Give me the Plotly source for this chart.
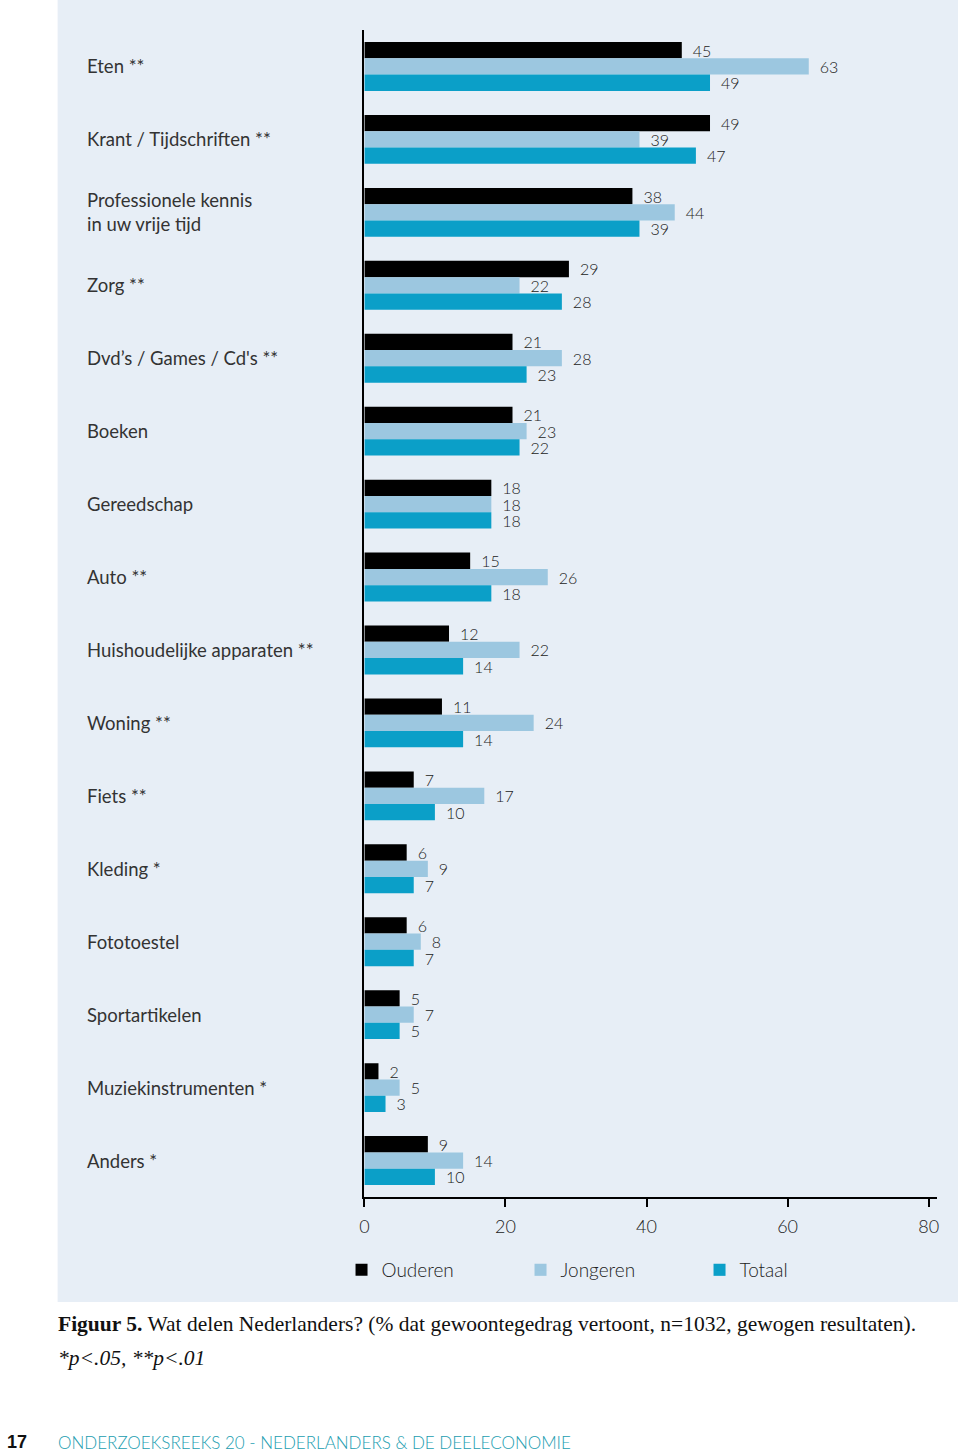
import plotly.graph_objects as go

categories = ["Eten **", "Krant / Tijdschriften **", "Professionele kennis<br>in uw vrije tijd",
              "Zorg **", "Dvd’s / Games / Cd's **", "Boeken", "Gereedschap", "Auto **",
              "Huishoudelijke apparaten **", "Woning **", "Fiets **", "Kleding *",
              "Fototoestel", "Sportartikelen", "Muziekinstrumenten *", "Anders *"]
ouderen = [45, 49, 38, 29, 21, 21, 18, 15, 12, 11, 7, 6, 6, 5, 2, 9]
jongeren = [63, 39, 44, 22, 28, 23, 18, 26, 22, 24, 17, 9, 8, 7, 5, 14]
totaal = [49, 47, 39, 28, 23, 22, 18, 18, 14, 14, 10, 7, 7, 5, 3, 10]
series_names = ["Ouderen", "Jongeren", "Totaal"]
x_ticks = [0, 20, 40, 60, 80]

colors = ["#000000", "#9CC7E0", "#0B9FC8"]
FONT = "Lato"
ids = list(range(len(categories)))

fig = go.Figure()
for name, vals, col in zip(series_names, [ouderen, jongeren, totaal], colors):
    fig.add_trace(go.Bar(
        y=ids, x=vals, name=name, orientation="h",
        marker=dict(color=col, line=dict(width=0)),
        text=[str(v) for v in vals], texttemplate="\u2002%{text}", textposition="outside",
        textfont=dict(family=FONT, size=16, color="#222222", weight=300),
        cliponaxis=False, constraintext="none",
    ))

# background panel
fig.add_shape(type="rect", xref="paper", yref="paper",
              x0=53/960, x1=1, y0=1-1302/1452, y1=1,
              fillcolor="#E7EEF6", line=dict(width=0), layer="below")

# category labels
for i, c in enumerate(categories):
    fig.add_annotation(x=81/960, xref="paper", y=i, yref="y", text=c,
                       showarrow=False, xanchor="left", yanchor="middle", align="left",
                       font=dict(family=FONT, size=18.5, color="#333333"))

# caption
fig.add_annotation(x=51/960, xref="paper", y=1-1324/1452, yref="paper",
                   text="<b>Figuur 5.</b> Wat delen Nederlanders? (% dat gewoontegedrag vertoont, n=1032, gewogen resultaten).",
                   showarrow=False, xanchor="left", yanchor="middle",
                   font=dict(family="Liberation Serif", size=21.5, color="#111111"))
fig.add_annotation(x=51/960, xref="paper", y=1-1358/1452, yref="paper",
                   text="<i>*p<.05, **p<.01</i>",
                   showarrow=False, xanchor="left", yanchor="middle",
                   font=dict(family="Liberation Serif", size=21.5, color="#111111"))
# footer
fig.add_annotation(x=0, xref="paper", y=1-1442/1452, yref="paper", text="<b>17</b>",
                   showarrow=False, xanchor="left", yanchor="middle",
                   font=dict(family="Liberation Sans Narrow, Liberation Sans", size=18, color="#111111"))
fig.add_annotation(x=51/960, xref="paper", y=1-1442/1452, yref="paper",
                   text="ONDERZOEKSREEKS 20 - NEDERLANDERS & DE DEELECONOMIE",
                   showarrow=False, xanchor="left", yanchor="middle",
                   font=dict(family=FONT, size=17, color="#229DB0", weight=300))

fig.update_layout(
    width=960, height=1452,
    margin=dict(l=0, r=0, t=0, b=0),
    paper_bgcolor="white", plot_bgcolor="rgba(0,0,0,0)",
    barmode="group", bargap=0.33, bargroupgap=0,
    font=dict(family=FONT, size=17, color="#222222"),
    xaxis=dict(domain=[362/960, 939/960], range=[0, 81.2], tickvals=x_ticks,
               showgrid=False, zeroline=False, showline=True, linecolor="#000000", linewidth=1.5,
               ticks="outside", ticklen=8, tickcolor="#000000", tickwidth=1.5, ticklabelstandoff=5,
               tickfont=dict(family=FONT, size=18, color="#222222", weight=300), fixedrange=True),
    yaxis=dict(domain=[1-1197/1452, 1-30/1452], range=[15.5, -0.5], showticklabels=False,
               showgrid=False, zeroline=False, showline=True, linecolor="#000000", linewidth=1.5,
               ticks="", fixedrange=True),
    showlegend=True,
    legend=dict(orientation="h", x=339/960, xanchor="left", y=1-1270/1452, yanchor="middle",
                entrywidth=134, entrywidthmode="pixels", bgcolor="rgba(0,0,0,0)",
                font=dict(family=FONT, size=19, color="#222222", weight=300), traceorder="normal"),
)

fig.write_html("out.html", config={"displayModeBar": False},
               post_script="document.documentElement.style.margin='0';document.body.style.margin='0';"
                           "document.body.style.padding='0';document.body.style.overflow='hidden';window.scrollTo(0,0);")
